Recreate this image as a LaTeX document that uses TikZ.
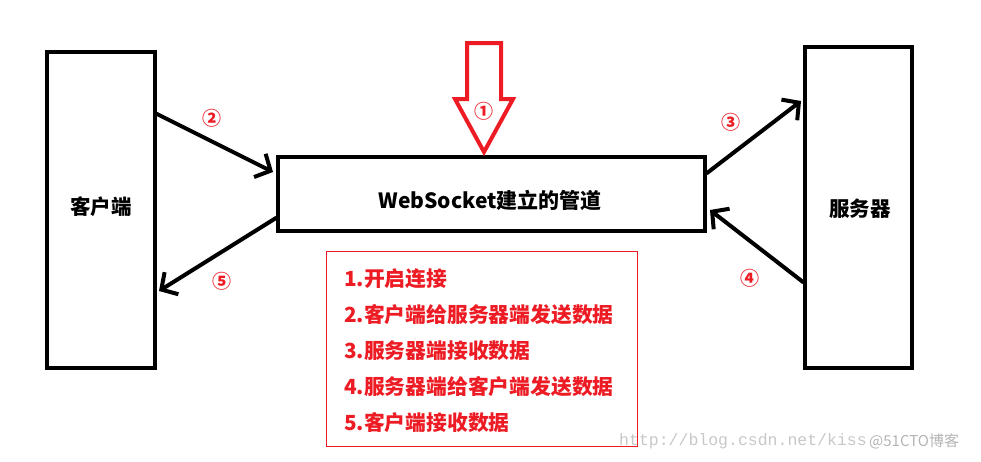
\documentclass[tikz,border=0pt]{standalone}
\usepackage{fontspec}
\setmainfont{Noto Sans CJK SC}
\newfontfamily\cjk{Noto Sans CJK SC}
\newfontfamily\wmmono{Liberation Mono}
\usetikzlibrary{arrows.meta}
\definecolor{myred}{RGB}{237,28,36}
\definecolor{wmgray}{RGB}{200,200,200}
\tikzset{
  blackbox/.style={draw=black,line width=4pt,fill=none,inner sep=0pt},
  conn/.style={line width=4pt,line cap=round,-{Straight Barb[length=12pt,width=26pt,line width=4pt]}},
  numlabel/.style={text=myred,font=\cjk\bfseries\fontsize{19}{19}\selectfont,inner sep=0pt},
  boxlabel/.style={font=\cjk\bfseries\fontsize{20.5}{20.5}\selectfont,inner sep=0pt},
  listline/.style={text=myred,font=\cjk\bfseries\fontsize{20.8}{20.8}\selectfont,anchor=west,inner sep=0pt},
}
\begin{document}
\begin{tikzpicture}[x=1pt,y=-1pt]
\useasboundingbox (0,0) rectangle (981,461);
% boxes
\draw[blackbox] (47,52) rectangle (155,368);
\node[boxlabel] (client) at (101,207) {客户端};
\draw[blackbox] (805,47) rectangle (912,368);
\node[boxlabel] (server) at (860,209) {服务器};
\draw[blackbox] (278,157) rectangle (705,231);
\node[boxlabel,font=\cjk\bfseries\fontsize{21}{21}\selectfont] (pipe) at (490,200) {WebSocket建立的管道};
% named coordinates for connector ends
\coordinate (c2a) at (157,114);
\coordinate (c2b) at (273,172);
\coordinate (c5a) at (276,218);
\coordinate (c5b) at (159,291);
\coordinate (c3a) at (707,173);
\coordinate (c3b) at (801,101);
\coordinate (c4a) at (803,282);
\coordinate (c4b) at (710,210);
\draw[conn] (c2a) -- (c2b);
\draw[conn] (c5a) -- (c5b);
\draw[conn] (c3a) -- (c3b);
\draw[conn] (c4a) -- (c4b);
% red arrow
\draw[myred,line width=4pt,line join=miter,fill=white]
  (467,43) -- (501,43) -- (501,99) -- (513,99) -- (484,152) -- (455,99) -- (467,99) -- cycle;
\node[numlabel] (n1) at (484,111) {①};
\node[numlabel] (n2) at (212,118) {②};
\node[numlabel] (n3) at (731,122) {③};
\node[numlabel] (n4) at (750,278) {④};
\node[numlabel] (n5) at (222,281) {⑤};
% list box
\draw[myred,line width=1pt] (326,251) rectangle (637,446);
\node[listline] (l1) at (344,279) {1.开启连接};
\node[listline] (l2) at (344,315) {2.客户端给服务器端发送数据};
\node[listline] (l3) at (344,351) {3.服务器端接收数据};
\node[listline] (l4) at (344,387) {4.服务器端给客户端发送数据};
\node[listline] (l5) at (344,423) {5.客户端接收数据};
% watermark
\node[anchor=west,inner sep=0pt,text=wmgray,font=\wmmono\fontsize{16.5}{16.5}\selectfont] (wm1) at (619,441) {http://blog.csdn.net/kiss};
\node[anchor=west,inner sep=0pt,text=wmgray!90!black,font=\cjk\fontsize{15}{15}\selectfont] (wm2) at (869,441) {@51CTO博客};
\end{tikzpicture}
\end{document}
